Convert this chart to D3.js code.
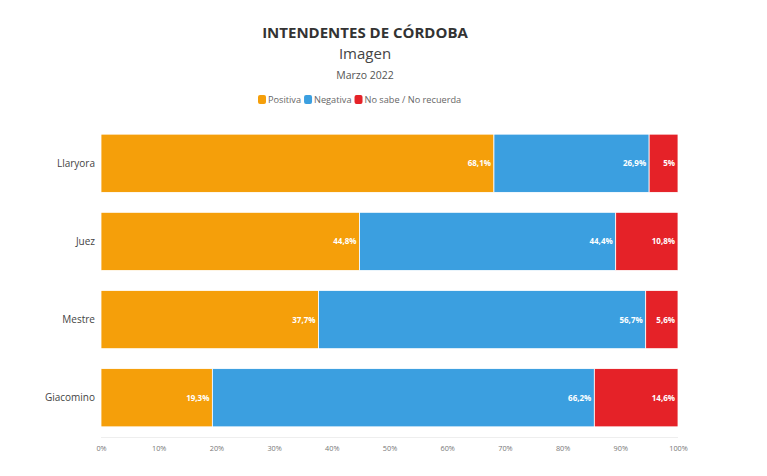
<!DOCTYPE html>
<html><head><meta charset="utf-8">
<script src="https://cdn.jsdelivr.net/npm/d3@7"></script>
<style>body{margin:0;background:#fff}svg{display:block}text{font-family:"Open Sans",Lato,sans-serif}</style>
</head><body><svg id="c" width="767" height="476"></svg>
<script>
const categories = ["Llaryora","Juez","Mestre","Giacomino"];
const seriesNames = ["Positiva","Negativa","No sabe / No recuerda"];
const positiva = [68.1,44.8,37.7,19.3];
const negativa = [26.9,44.4,56.7,66.2];
const nosabe = [5,10.8,5.6,14.6];
const labelsPos = ["68,1%","44,8%","37,7%","19,3%"];
const labelsNeg = ["26,9%","44,4%","56,7%","66,2%"];
const labelsNs = ["5%","10,8%","5,6%","14,6%"];
const ticks = [0,10,20,30,40,50,60,70,80,90,100];
const colors = ["#f59f0a","#3b9fe0","#e52228"];

const svg = d3.select("#c");
const x = d3.scaleLinear().domain([0,100]).range([101,678]);
const y = d3.scaleBand().domain(categories).range([124,437]).paddingInner(0.255).paddingOuter(0.13);

const rows = categories.map((c,i)=>({cat:c, Positiva:positiva[i], Negativa:negativa[i], "No sabe / No recuerda":nosabe[i]}));
const stacked = d3.stack().keys(seriesNames)(rows);
const labelSets = [labelsPos,labelsNeg,labelsNs];

// title
svg.append("text").attr("x",365).attr("y",38).attr("text-anchor","middle").attr("font-size",15).attr("font-weight",700).attr("fill","#333").text("INTENDENTES DE CÓRDOBA");
svg.append("text").attr("x",365).attr("y",59).attr("text-anchor","middle").attr("font-size",15).attr("fill","#444").text("Imagen");
svg.append("text").attr("x",365).attr("y",79).attr("text-anchor","middle").attr("font-size",10.5).attr("fill","#555").text("Marzo 2022");

// legend
const lg = svg.append("g");
let lx = 258;
seriesNames.forEach((s,i)=>{
  lg.append("rect").attr("x",lx).attr("y",95).attr("width",8).attr("height",9).attr("rx",2).attr("fill",colors[i]);
  const t = lg.append("text").attr("x",lx+10).attr("y",103).attr("font-size",9.2).attr("fill","#666").text(s);
  lx += 10 + t.node().getComputedTextLength() + 3;
});

// bars
stacked.forEach((layer,si)=>{
  const g = svg.append("g");
  g.selectAll("rect").data(layer).join("rect")
    .attr("x",d=>x(d[0])).attr("width",d=>Math.min(x(d[1]),678)-x(d[0]))
    .attr("y",d=>y(d.data.cat)).attr("height",y.bandwidth())
    .attr("fill",colors[si]).attr("stroke","#fff").attr("stroke-width",0.8);
  g.selectAll("text").data(layer).join("text")
    .attr("x",d=>Math.min(x(d[1]),678)-3).attr("y",d=>y(d.data.cat)+y.bandwidth()/2+3)
    .attr("text-anchor","end").attr("font-size",8).attr("font-weight",700).attr("fill","#fff")
    .text((d,i)=>labelSets[si][i]);
});

// category labels
svg.append("g").selectAll("text").data(categories).join("text")
  .attr("x",95).attr("y",d=>y(d)+y.bandwidth()/2+3.5).attr("text-anchor","end")
  .attr("font-size",10).attr("fill","#444").text(d=>d);

// x axis
svg.append("line").attr("x1",101).attr("x2",678).attr("y1",437.5).attr("y2",437.5).attr("stroke","#eee");
const ax = svg.append("g").attr("transform","translate(0,437)")
  .call(d3.axisBottom(x).tickValues(ticks).tickSize(0).tickPadding(9).tickFormat(d=>d+"%"));
ax.select(".domain").remove();
ax.selectAll("text").attr("font-size",7.3).attr("fill","#777").attr("font-family","'Open Sans',sans-serif");
</script></body></html>
